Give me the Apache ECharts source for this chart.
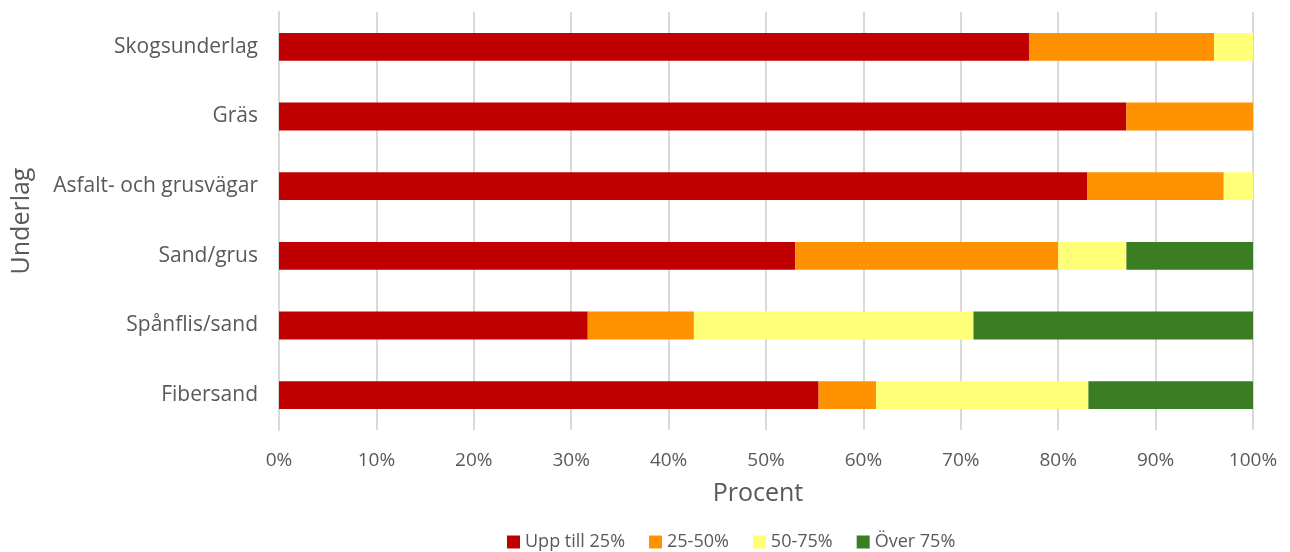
<!DOCTYPE html>
<html>
<head>
<meta charset="utf-8">
<script src="https://cdn.jsdelivr.net/npm/echarts@6/dist/echarts.min.js"></script>
<style>
  html, body { margin: 0; padding: 0; background: #fff; }
  #chart { width: 1290px; height: 552px; }
</style>
</head>
<body>
<div id="chart"></div>
<script>
// Underlag categories, listed bottom to top as the category axis draws them
const categories = ['Fibersand', 'Spånflis/sand', 'Sand/grus', 'Asfalt- och grusvägar', 'Gräs', 'Skogsunderlag'];

// Share (%) of each underlag per class
const uppTill25 = [55.4, 31.7, 53, 83, 87, 77];
const mellan25och50 = [5.9, 10.9, 27, 14, 13, 19];
const mellan50och75 = [21.8, 28.7, 7, 3, 0, 4];
const over75 = [16.9, 28.7, 13, 0, 0, 0];

const seriesNames = ['Upp till 25%', '25-50%', '50-75%', 'Över 75%'];
const seriesColors = ['#C00000', '#FF9200', '#FFFF78', '#3B7D23'];
const xTicks = [0, 10, 20, 30, 40, 50, 60, 70, 80, 90, 100];

const FONT = '"Open Sans", sans-serif';
const TEXT = '#595959';
const values = [uppTill25, mellan25och50, mellan50och75, over75];

const chart = echarts.init(document.getElementById('chart'));
chart.setOption({
  animation: false,
  textStyle: { fontFamily: FONT },
  grid: { left: 279, right: 37, top: 12, bottom: 122, containLabel: false },
  legend: {
    top: 528,
    left: 502,
    itemWidth: 13,
    itemHeight: 13,
    itemGap: 24,
    icon: 'rect',
    textStyle: { fontFamily: FONT, fontSize: 18, color: TEXT },
    data: seriesNames
  },
  xAxis: {
    type: 'value',
    min: xTicks[0],
    max: xTicks[xTicks.length - 1],
    interval: 10,
    name: 'Procent',
    nameLocation: 'middle',
    nameGap: 51,
    nameTextStyle: { fontFamily: FONT, fontSize: 25, color: TEXT, padding: [0, 16, 0, 0] },
    axisLine: { show: false },
    axisTick: { show: false },
    axisLabel: {
      formatter: v => v + '%',
      fontFamily: FONT, fontSize: 19, color: TEXT, margin: 21
    },
    splitLine: { lineStyle: { color: '#d9d9d9', width: 2 } }
  },
  yAxis: {
    type: 'category',
    data: categories,
    name: 'Underlag',
    nameLocation: 'middle',
    nameGap: 245,
    nameRotate: 90,
    nameTextStyle: { fontFamily: FONT, fontSize: 25, color: TEXT },
    axisLine: { lineStyle: { color: '#d9d9d9', width: 2 } },
    axisTick: { show: false },
    axisLabel: { fontFamily: FONT, fontSize: 21, color: TEXT, margin: 21 }
  },
  series: seriesNames.map((name, i) => ({
    name,
    type: 'bar',
    stack: 'total',
    barWidth: '40%',
    itemStyle: { color: seriesColors[i] },
    data: values[i]
  }))
});
</script>
</body>
</html>
